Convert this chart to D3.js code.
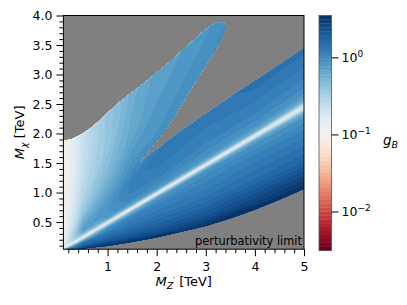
<!DOCTYPE html>
<html><head><meta charset="utf-8">
<script src="https://cdn.jsdelivr.net/npm/d3@7"></script>
<style>
body{margin:0;background:#fff}
text{font-family:"DejaVu Sans",sans-serif;fill:#000}
</style>
</head><body>
<svg id="c" width="407" height="305"></svg>
<script>
// ---------- data ----------
const mZp = [0.1, 0.5, 1, 1.5, 2, 3, 4, 5];                 // M_Z' rows [TeV]
const ratio = [0.05,0.1,0.15,0.2,0.3,0.4,0.45,0.47,0.48,0.49,0.5,0.51,0.53,0.56,0.6,0.7,0.8,1.0,1.3,1.8,2.5,4,8,20]; // M_chi / M_Z'
// log10(g_B) at (mZp[i], ratio[j])
const log10gB = [
 [0.25,0.18,0.09,-0.06,-0.37,-0.98,-1.07,-1.13,-1.13,-1.13,-1.13,-1.13,-1.07,-1.04,-0.98,-0.91,-0.85,-0.82,-0.85,-0.88,-0.91,-0.98,-1.04,-1.04],
 [0.70,0.46,0.34,0.25,0.12,-0.43,-0.79,-0.98,-1.10,-1.20,-1.10,-0.98,-0.79,-0.58,-0.37,-0.15,-0.15,-0.24,-0.40,-0.52,-0.61,-0.67,-0.67,-0.67],
 [0.70,0.49,0.37,0.26,0.12,-0.06,-0.49,-0.79,-1.00,-1.20,-1.00,-0.79,-0.46,-0.21,-0.09,-0.06,-0.09,-0.18,-0.30,-0.40,-0.40,-0.40,-0.40,-0.40],
 [0.70,0.55,0.38,0.28,0.14,0.03,-0.27,-0.67,-0.93,-1.18,-0.93,-0.67,-0.27,-0.09,0.00,0.06,0.06,-0.06,-0.18,-0.24,-0.27,-0.27,-0.27,-0.27],
 [0.70,0.64,0.40,0.29,0.14,0.03,-0.12,-0.49,-0.80,-1.10,-0.80,-0.49,-0.12,-0.03,0.03,0.09,0.12,-0.06,-0.12,-0.18,-0.21,-0.21,-0.21,-0.21],
 [0.70,0.70,0.49,0.34,0.15,0.03,-0.03,-0.30,-0.70,-0.96,-0.70,-0.30,-0.09,-0.03,0.03,0.09,0.15,0.00,-0.09,-0.12,-0.15,-0.18,-0.18,-0.18],
 [0.70,0.70,0.70,0.46,0.20,0.06,-0.05,-0.22,-0.58,-0.92,-0.58,-0.22,-0.07,0.00,0.06,0.15,0.18,0.06,0.00,-0.06,-0.12,-0.15,-0.15,-0.15],
 [0.70,0.70,0.67,0.58,0.25,0.06,-0.05,-0.27,-0.61,-0.88,-0.61,-0.27,-0.08,0.00,0.06,0.18,0.18,0.12,0.03,-0.06,-0.12,-0.15,-0.15,-0.15]
];
// edges of the allowed (coloured) region, [M_Z', M_chi] in TeV
const lowerEdge = [[0.1,0.03],[0.5,0.05],[1,0.093],[1.5,0.16],[2,0.24],[2.5,0.335],[3,0.435],[3.5,0.56],[4,0.71],[4.5,0.88],[5,1.06]];
const wedgeLower = [[1.6,1.48],[2.0,1.73],[2.47,2.03],[3.1,2.39],[3.7,2.73],[4.35,3.08],[5,3.44]];
const lobeLower = [[1.6,1.48],[1.85,1.72],[2.1,1.98],[2.35,2.28],[2.6,2.62],[2.85,2.96],[3.1,3.28],[3.28,3.55],[3.38,3.72],[3.41,3.8]];
const upperEdge = [[3.38,3.86],[3.3,3.88],[3.2,3.87],[3.1,3.82],[2.95,3.73],[2.75,3.58],[2.5,3.39],[2.25,3.2],[2.0,3.03],[1.75,2.86],[1.5,2.70],[1.25,2.54],[1.05,2.39],[0.85,2.23],[0.65,2.09],[0.45,1.98],[0.25,1.9],[0.1,1.88]];
const xTicks = [1,2,3,4,5];
const yTicks = [0.5,1.0,1.5,2.0,2.5,3.0,3.5,4.0];
const cbTicks = [-2,-1,0];
const cbTickLabels = ["\u22122","\u22121","0"];
const LO = -2.5, HI = 0.55, NLEV = 60;

// ---------- layout ----------
const L=63.4, R=304, T=15.5, B=249.2;
const x = d3.scaleLinear().domain([0.1,5]).range([L,R]);
const y = d3.scaleLinear().domain([0.04,4]).range([B,T]);
const svg = d3.select("#c");
const col = v => d3.interpolateRdBu(Math.max(0,Math.min(1,(v-LO)/(HI-LO))));

// ---------- field from the table ----------
function rowAt(row, r){
  const n = ratio.length;
  if (r <= ratio[0]) return row[0];
  if (r >= ratio[n-1]) return row[n-1];
  const k = d3.bisectRight(ratio, r) - 1;
  const f = (r - ratio[k])/(ratio[k+1]-ratio[k]);
  return row[k]*(1-f) + row[k+1]*f;
}
function field(mx, my){
  const r = my/mx;
  let i = d3.bisectRight(mZp, mx) - 1;
  i = Math.max(0, Math.min(mZp.length-2, i));
  const f = Math.max(0, Math.min(1, (mx-mZp[i])/(mZp[i+1]-mZp[i])));
  return rowAt(log10gB[i], r)*(1-f) + rowAt(log10gB[i+1], r)*f;
}

svg.append("rect").attr("x",L).attr("y",T).attr("width",R-L).attr("height",B-T).attr("fill","#808080");

const poly = [...lowerEdge, ...wedgeLower.slice().reverse(), ...lobeLower.slice(1), ...upperEdge];
svg.append("defs").append("clipPath").attr("id","cp")
  .append("path").attr("d", d3.line().x(d=>x(d[0])).y(d=>y(d[1]))(poly) + "Z");

const S = 2, nx = Math.round((R-L)*S), ny = Math.round((B-T)*S);
const vals = new Float64Array(nx*ny);
for (let j=0;j<ny;j++){
  const my = y.invert(T + (j+0.5)*(B-T)/ny);
  for (let i=0;i<nx;i++){
    const mx = x.invert(L + (i+0.5)*(R-L)/nx);
    vals[j*nx+i] = field(mx, my);
  }
}
const levels = d3.range(NLEV+1).map(k => LO + k*(HI-LO)/NLEV);
const conts = d3.contours().size([nx,ny]).thresholds(levels.slice(0,NLEV))(vals);
const proj = d3.geoTransform({point(px,py){ this.stream.point(L + px*(R-L)/nx, T + py*(B-T)/ny); }});
const path = d3.geoPath(proj);
const gc = svg.append("g").attr("clip-path","url(#cp)");
conts.forEach((c,k) => {
  const mid = (levels[k]+levels[k+1])/2;
  gc.append("path").attr("d", path(c)).attr("fill", col(mid)).attr("stroke", col(mid)).attr("stroke-width",0.3);
});

// ---------- axes ----------
const xMinor = d3.range(0.2,5,0.2).filter(v => Math.abs(v-Math.round(v))>1e-6);
const yMinor = d3.range(0.1,4,0.1).filter(v => Math.abs(v*2-Math.round(v*2))>1e-6);
function styleAxis(g){ g.select(".domain").remove(); g.selectAll("line").attr("stroke","#000"); g.selectAll("text").attr("font-size",12.5).attr("font-family","DejaVu Sans"); }
svg.append("g").attr("transform",`translate(0,${B})`)
  .call(d3.axisBottom(x).tickValues(xMinor).tickSize(4).tickFormat("")).call(styleAxis);
svg.append("g").attr("transform",`translate(0,${B})`)
  .call(d3.axisBottom(x).tickValues(xTicks).tickSize(7).tickPadding(6).tickFormat(d3.format("d"))).call(styleAxis);
svg.append("g").attr("transform",`translate(${L},0)`)
  .call(d3.axisLeft(y).tickValues(yMinor).tickSize(4).tickFormat("")).call(styleAxis);
svg.append("g").attr("transform",`translate(${L},0)`)
  .call(d3.axisLeft(y).tickValues(yTicks).tickSize(7).tickPadding(4).tickFormat(d3.format(".1f"))).call(styleAxis);
svg.append("rect").attr("x",L).attr("y",T).attr("width",R-L).attr("height",B-T)
  .attr("fill","none").attr("stroke","#000").attr("stroke-width",1);

svg.append("text").attr("x",302).attr("y",244.5).attr("text-anchor","end").attr("font-size",11.4).text("perturbativity limit");

// axis labels
const xl = svg.append("text").attr("x",(L+R)/2).attr("y",286).attr("text-anchor","middle").attr("font-size",13);
xl.append("tspan").attr("font-style","italic").text("M");
xl.append("tspan").attr("font-style","italic").attr("font-size",9.5).attr("dy",3).text("Z");
xl.append("tspan").attr("font-size",8).attr("dy",-5).text("\u2032");
xl.append("tspan").attr("dy",2).text(" [TeV]");
const yl = svg.append("text").attr("transform",`translate(24,${(T+B)/2}) rotate(-90)`).attr("text-anchor","middle").attr("font-size",13);
yl.append("tspan").attr("font-style","italic").text("M");
yl.append("tspan").attr("font-style","italic").attr("font-size",9.5).attr("dy",3).text("\u03c7");
yl.append("tspan").attr("dy",-3).text(" [TeV]");

// ---------- colorbar ----------
const CBL=319, CBR=331.5, CBT=15.5, CBB=250.5;
const cb = d3.scaleLinear().domain([LO,HI]).range([CBB,CBT]);
const gcb = svg.append("g");
d3.range(NLEV).forEach(k => {
  const mid = (levels[k]+levels[k+1])/2;
  gcb.append("rect").attr("x",CBL).attr("width",CBR-CBL)
    .attr("y",cb(levels[k+1])).attr("height",cb(levels[k])-cb(levels[k+1])+0.3)
    .attr("fill",col(mid));
});
gcb.append("rect").attr("x",CBL).attr("y",CBT).attr("width",CBR-CBL).attr("height",CBB-CBT)
  .attr("fill","none").attr("stroke","#555").attr("stroke-width",0.8);
cbTicks.forEach((v,i) => {
  const yy = cb(v);
  gcb.append("line").attr("x1",CBR).attr("x2",CBR+7).attr("y1",yy).attr("y2",yy).attr("stroke","#000");
  const t = gcb.append("text").attr("x",CBR+10).attr("y",yy+4.5).attr("font-size",12.5);
  t.append("tspan").text("10");
  t.append("tspan").attr("font-size",9).attr("dy",-5.5).text(cbTickLabels[i]);
});
const gl = svg.append("text").attr("x",383).attr("y",145).attr("font-size",13.5);
gl.append("tspan").attr("font-style","italic").text("g");
gl.append("tspan").attr("font-style","italic").attr("font-size",9.5).attr("dy",3).text("B");
</script>
</body></html>
